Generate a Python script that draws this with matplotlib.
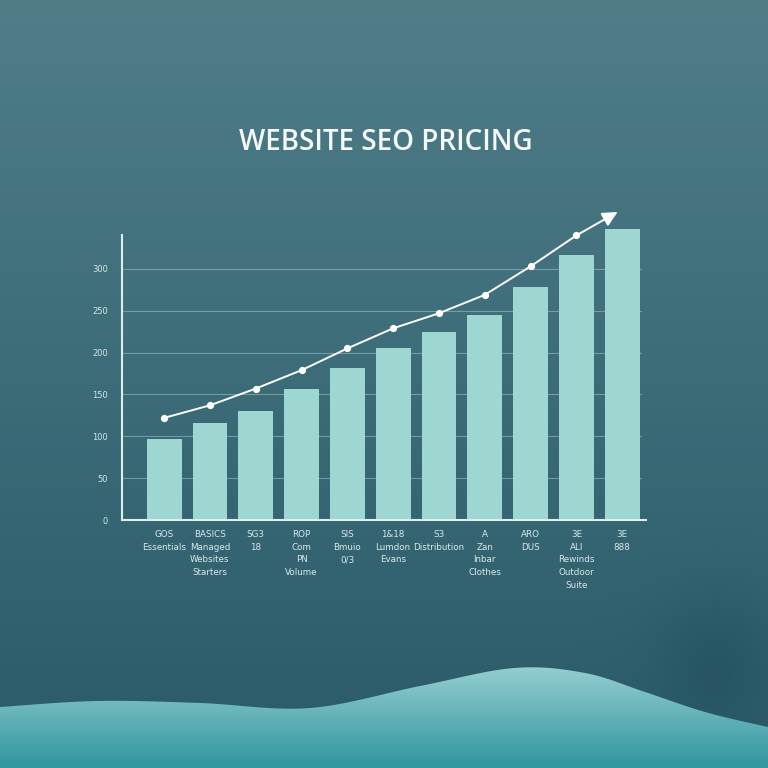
import numpy as np
import matplotlib
matplotlib.use("Agg")
import matplotlib.pyplot as plt
from matplotlib.patches import Polygon

# ---------------- data ----------------
categories = [
    "GOS\nEssentials",
    "BASICS\nManaged\nWebsites\nStarters",
    "SG3\n18",
    "ROP\nCom\nPN\nVolume",
    "SIS\nBmuio\n0/3",
    "1&18\nLumdon\nEvans",
    "S3\nDistribution",
    "A\nZan\nInbar\nClothes",
    "ARO\nDUS",
    "3E\nALI\nRewinds\nOutdoor\nSuite",
    "3E\n888",
]
bar_values = [97, 116, 130, 156, 182, 205, 225, 245, 278, 317, 348]
trend_values = [122, 137, 157, 179, 205, 229, 247, 269, 303, 340]
trend_arrow_end = 368
yticks = [0, 50, 100, 150, 200, 250, 300]
title = "WEBSITE SEO PRICING"

W = H = 768
fig = plt.figure(figsize=(7.68, 7.68), dpi=100)

# ---------------- background ----------------
bg = fig.add_axes([0, 0, 1, 1], zorder=-10)
bg.set_xlim(0, W); bg.set_ylim(H, 0); bg.axis("off")
yy, xx = np.mgrid[0:H, 0:W]
top = np.array([79, 126, 137]) / 255
bot = np.array([42, 90, 104]) / 255
t = (yy / H)[..., None]
img = top * (1 - t) + bot * t
d = np.exp(-(((xx - 715) / 60.0) ** 2 + ((yy - 665) / 70.0) ** 2))[..., None]
img = img * (1 - 0.4 * d) + np.array([28, 72, 86]) / 255 * 0.4 * d
bg.imshow(img, extent=[0, W, H, 0], aspect="auto", zorder=0)

# wave decoration (figure pixel space)
wp = np.array([(-60, 712), (0, 707), (98, 701), (200, 703), (310, 708),
               (420, 686), (514, 668), (585, 673), (645, 692), (705, 712),
               (768, 727), (830, 740)], float)

def catmull(pts, n=40):
    out = []
    for i in range(1, len(pts) - 2):
        p0, p1, p2, p3 = pts[i - 1], pts[i], pts[i + 1], pts[i + 2]
        for s in np.linspace(0, 1, n, endpoint=False):
            s2, s3 = s * s, s * s * s
            out.append(0.5 * ((2 * p1) + (-p0 + p2) * s + (2 * p0 - 5 * p1 + 4 * p2 - p3) * s2
                              + (-p0 + 3 * p1 - 3 * p2 + p3) * s3))
    out.append(pts[-2])
    return np.array(out)

curve = catmull(wp)
poly = np.vstack([curve, [[W + 5, H + 5], [-5, H + 5]]])
wave_top = np.array([146, 205, 208]) / 255
wave_bot = np.array([52, 152, 160]) / 255
tw = np.clip((yy - 668) / 95.0, 0, 1)[..., None]
wimg = wave_top * (1 - tw) + wave_bot * tw
im = bg.imshow(wimg, extent=[0, W, H, 0], aspect="auto", zorder=1)
patch = Polygon(poly, closed=True, transform=bg.transData, facecolor="none", edgecolor="none")
bg.add_patch(patch)
im.set_clip_path(patch)

# ---------------- chart ----------------
L, R, B, T = 122, 646, 520, 200
ppu = 0.837  # pixels per value unit
ax = fig.add_axes([L / W, 1 - B / H, (R - L) / W, (B - T) / H])
ax.patch.set_alpha(0)
x = np.arange(len(categories))
ax.set_xlim(-0.92, 10.52)
ax.set_ylim(0, (B - T) / ppu)

for yv in yticks[1:]:
    ax.plot([-0.92, 10.4], [yv, yv], color="#9fc3c7", lw=0.8, alpha=0.55, zorder=1)

ax.bar(x, bar_values, width=0.76, color="#9ed6d2", zorder=2)

tx = x[:len(trend_values)]
ax.plot(tx, trend_values, color="white", lw=1.4, zorder=4)
ax.plot(tx, trend_values, "o", color="white", ms=4.2, zorder=5)
ax.annotate("", xy=(9.9, trend_arrow_end), xytext=(tx[-1], trend_values[-1]),
            arrowprops=dict(arrowstyle="-|>,head_length=0.9,head_width=0.45",
                            color="white", lw=1.4, shrinkA=0, shrinkB=0), zorder=6)

for s in ["top", "right"]:
    ax.spines[s].set_visible(False)
for s in ["left", "bottom"]:
    ax.spines[s].set_color("#dcefef")
    ax.spines[s].set_linewidth(1.5)
ax.spines["left"].set_bounds(0, (B - 235) / ppu)

ax.set_yticks(yticks)
ax.set_yticklabels([str(v) for v in yticks], fontsize=6, color="#d4e6e8")
ax.tick_params(axis="y", length=0, pad=10)
ax.set_xticks(x)
ax.set_xticklabels(categories, fontsize=6.3, color="#d8e8ea", linespacing=1.55,
                   va="top")
ax.tick_params(axis="x", length=0, pad=7)

fig.text(386 / W, 1 - 142 / H, title, ha="center", va="center", color="#f4fafa",
         fontsize=20, family=["Open Sans", "DejaVu Sans"], weight="semibold")

fig.savefig("out.png", dpi=100)
